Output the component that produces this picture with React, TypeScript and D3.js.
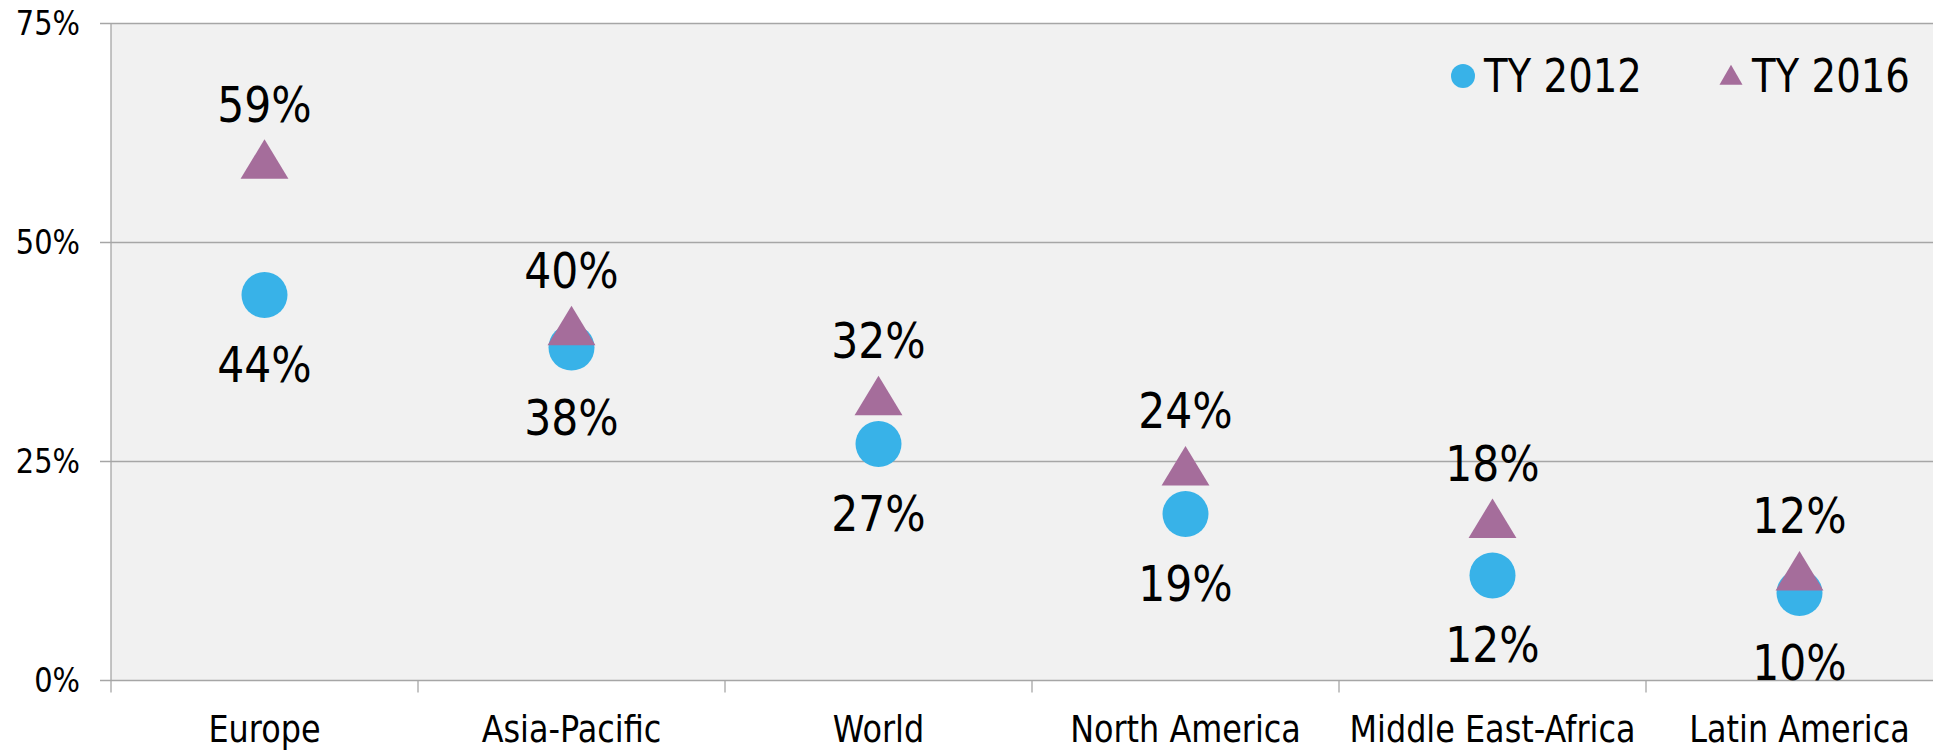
import React from "react";
import * as d3 from "d3";

const categories = ["Europe", "Asia-Pacific", "World", "North America", "Middle East-Africa", "Latin America"];
const ty2012 = [44, 38, 27, 19, 12, 10];
const ty2016 = [59, 40, 32, 24, 18, 12];
const yTicks = [0, 25, 50, 75];
const seriesNames = ["TY 2012", "TY 2016"];

const W = 1933;
const H = 751;
const FONT = "'DejaVu Sans', Verdana, sans-serif";
const SX = 0.85;

const left = 111;
const top = 23.5;
const bottom = 680.5;
const bandW = 307;

const x = d3.scaleBand<string>().domain(categories).range([left, left + bandW * categories.length]).paddingInner(0).paddingOuter(0);
const y = d3.scaleLinear().domain([0, 75]).range([bottom, top]);

const BLUE = "#38b2e8";
const MAUVE = "#a56d9b";
const GRID = "#a6a6a6";

function T({ x: tx, y: ty, size, anchor = "middle", children }: any) {
  return (
    <text
      transform={`translate(${tx},${ty}) scale(${SX},1)`}
      textAnchor={anchor}
      fontFamily={FONT}
      fontSize={size}
      fill="#000"
    >
      {children}
    </text>
  );
}

const tri = d3.symbol().type(d3.symbolTriangle).size(900)();

export default function App() {
  const cx = (c: string) => (x(c) as number) + x.bandwidth() / 2;
  const right = left + bandW * categories.length;
  return (
    <svg width={W} height={H} style={{ position: "absolute", left: 0, top: 0, background: "#fff" }}>
      <rect x={left} y={top} width={right - left} height={bottom - top} fill="#f1f1f1" />
      {yTicks.map((t) => (
        <g key={t}>
          <line x1={left - 11} x2={right} y1={y(t)} y2={y(t)} stroke={GRID} strokeWidth={1.3} />
          <T x={80} y={y(t) + 11.5} size={34} anchor="end">{t}%</T>
        </g>
      ))}
      <line x1={left} x2={left} y1={top} y2={bottom + 12} stroke={GRID} strokeWidth={1.3} />
      {categories.map((c, i) => (
        <line key={"t" + i} x1={(x(c) as number) + bandW} x2={(x(c) as number) + bandW} y1={bottom} y2={bottom + 12} stroke={GRID} strokeWidth={1.3} />
      ))}
      {categories.map((c) => (
        <T key={"c" + c} x={cx(c)} y={742} size={37.5}>{c}</T>
      ))}
      {categories.map((c, i) => (
        <circle key={"a" + c} cx={cx(c)} cy={y(ty2012[i])} r={23} fill={BLUE} />
      ))}
      {categories.map((c, i) => (
        <path key={"b" + c} d={tri as string} transform={`translate(${cx(c)},${y(ty2016[i]) + 2}) scale(1.05,1)`} fill={MAUVE} />
      ))}
      {categories.map((c, i) => (
        <T key={"la" + c} x={cx(c)} y={y(ty2012[i]) + 87} size={50}>{ty2012[i]}%</T>
      ))}
      {categories.map((c, i) => (
        <T key={"lb" + c} x={cx(c)} y={y(ty2016[i]) - 42} size={50}>{ty2016[i]}%</T>
      ))}
      <g>
        <circle cx={1463} cy={76} r={12} fill={BLUE} />
        <T x={1484} y={92} size={45.5} anchor="start">{seriesNames[0]}</T>
        <path d={d3.symbol().type(d3.symbolTriangle).size(230)() as string} transform="translate(1731,78)" fill={MAUVE} />
        <T x={1752} y={92} size={45.5} anchor="start">{seriesNames[1]}</T>
      </g>
    </svg>
  );
}
